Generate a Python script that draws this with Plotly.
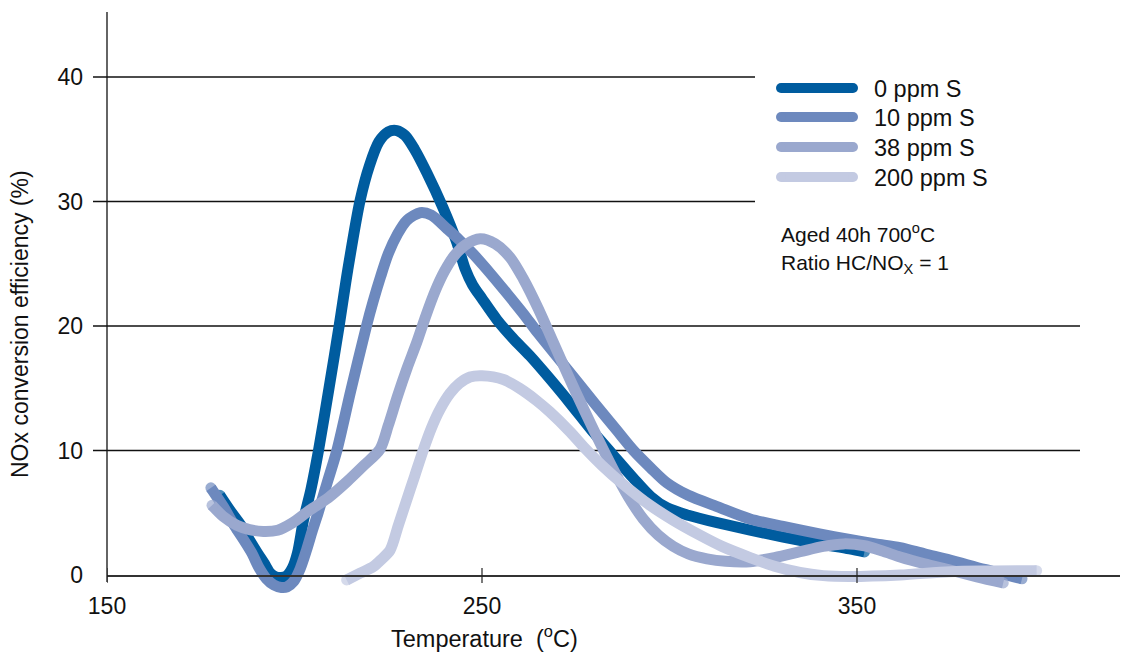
import plotly.graph_objects as go

# ---------------- data ----------------
temp_0ppm = [180.1, 183, 185.9, 188, 190.1, 192, 193.5, 195, 196.5, 198, 199.5, 200.8, 202.4, 204.4,
             206.4, 209.2, 211.9, 214.2, 217.5, 220, 222.5, 225, 227.3, 229.5, 232, 235.3, 239.6,
             243.3, 245.5, 247.5, 250, 254, 258.3, 262.8, 268, 273.5, 279.6, 284.5, 290.3, 295,
             299.3, 305, 312.7, 321.5, 330.3, 340, 348, 352]
nox_0ppm = [6.4, 5.1, 3.9, 2.8, 1.77, 0.9, 0.16, -0.15, -0.2, -0.05, 0.6, 1.77, 4.4, 6.9,
            10.0, 15.0, 20.0, 24.5, 30.1, 32.9, 34.8, 35.6, 35.7, 35.3, 34.2, 32.3, 29.5,
            26.7, 24.6, 23.3, 22.2, 20.5, 19.0, 17.6, 15.8, 13.8, 11.5, 9.8, 7.8, 6.3,
            5.4, 4.8, 4.2, 3.6, 3.05, 2.5, 2.1, 1.85]

temp_10ppm = [177.7, 181, 184.1, 186.5, 188.6, 190.5, 192.5, 194.5, 196.5, 198, 199.8, 201.5, 203.2,
              204.8, 206.3, 208.8, 211.3, 215, 219.2, 221, 223, 225, 227.5, 230, 233.5, 236.5,
              240.7, 244, 247.6, 252, 256.7, 261, 265, 272, 280, 286, 290.4, 295, 299.3, 305,
              312.7, 321.5, 330.3, 340, 348, 355, 361.5, 368, 374.8, 384, 394]
nox_10ppm = [7.0, 5.5, 3.9, 2.8, 1.77, 0.6, -0.3, -0.8, -1.0, -0.95, -0.5, 0.5, 2.0,
             3.6, 5.0, 7.5, 10.0, 14.8, 20.0, 22.0, 24.0, 25.8, 27.4, 28.5, 29.1, 28.9,
             27.8, 26.9, 25.8, 24.3, 22.6, 21.0, 19.4, 16.8, 13.8, 11.6, 10.0, 8.6, 7.4, 6.4,
             5.5, 4.5, 3.9, 3.3, 2.85, 2.5, 2.2, 1.7, 1.2, 0.45, -0.3]

temp_38ppm = [178, 181, 184.6, 188, 191.7, 195.5, 199.5, 204, 209, 214, 218.5, 222.8, 225, 227.5,
              230, 232.5, 235, 237.5, 240, 242.5, 245.5, 249.5, 253.5, 257.5, 261, 265, 269, 273,
              277, 281, 285, 289, 293, 297, 301, 305, 310, 315, 321.5, 328, 334.8, 341, 346.5,
              352, 357, 361.5, 368, 374.8, 382, 389]
nox_38ppm = [5.6, 4.7, 4.0, 3.65, 3.5, 3.6, 4.2, 5.2, 6.2, 7.5, 8.8, 10.1, 12.0, 14.4,
             16.6, 18.6, 20.8, 22.8, 24.4, 25.6, 26.5, 27.0, 26.6, 25.5, 23.8, 21.4, 18.7, 16.0,
             13.4, 10.9, 8.5, 6.3, 4.5, 3.2, 2.3, 1.7, 1.3, 1.1, 1.07, 1.4, 1.87, 2.3, 2.5,
             2.35, 1.9, 1.45, 0.9, 0.4, -0.15, -0.64]

temp_200ppm = [213.9, 217.5, 221, 223, 225.5, 227.7, 229.9, 232.1, 234.3, 236.5, 238.8, 241.5, 244,
               246.8, 250, 255.7, 260, 264.6, 268.1, 273.5, 277.7, 282, 287.6, 294.8, 301, 308.1,
               314, 321.5, 328, 334.8, 341, 348, 361.5, 374.8, 386, 397.9]
nox_200ppm = [-0.4, 0.15, 0.67, 1.2, 2.0, 4.0, 6.0, 8.0, 10.0, 11.8, 13.3, 14.6, 15.4,
              15.9, 16.0, 15.7, 15.0, 14.0, 13.1, 11.5, 10.1, 8.8, 7.3, 5.6, 4.4, 3.2,
              2.3, 1.4, 0.7, 0.2, -0.05, -0.12, 0.0, 0.27, 0.32, 0.35]

series_names = ["0 ppm S", "10 ppm S", "38 ppm S", "200 ppm S"]
series_x = [temp_0ppm, temp_10ppm, temp_38ppm, temp_200ppm]
series_y = [nox_0ppm, nox_10ppm, nox_38ppm, nox_200ppm]
colors = ["#005C9F", "#6D89BE", "#9AA8CE", "#C3CAE2"]

x_ticks = [150, 250, 350]
y_ticks = [0, 10, 20, 30, 40]
x_title = "Temperature&nbsp; (<sup>o</sup>C)"
y_title = "NOx conversion efficiency (%)"
note_lines = ["Aged 40h 700<sup>o</sup>C", "Ratio HC/NO<sub>X</sub> = 1"]

# ---------------- layout geometry (pixels) ----------------
W, H = 1124, 653
ML, MR, MT, MB = 107, 4, 12, 53
PW, PH = W - ML - MR, H - MT - MB
X_PER_PX = 100 / 375.0
Y_PER_PX = 10 / 124.5
x_range = [150, 150 + PW * X_PER_PX]
y_top = (575 - MT) * Y_PER_PX
y_range = [y_top - PH * Y_PER_PX, y_top]


def px_x(px):
    return (px - ML) / PW


def px_y(py):
    return (H - MB - py) / PH


FONT = "Liberation Sans, Arial, Helvetica, sans-serif"
LW = 11

fig = go.Figure()
for name, xs, ys, c in zip(series_names, series_x, series_y, colors):
    sizes = [0] * len(xs)
    sizes[0] = LW
    sizes[-1] = LW
    fig.add_trace(go.Scatter(
        x=xs, y=ys, name=name, mode="lines+markers",
        line=dict(color=c, width=LW, shape="spline", smoothing=0.8),
        marker=dict(size=sizes, color=c, line=dict(width=0)),
        showlegend=False, hoverinfo="skip",
    ))

shapes = []
# horizontal gridlines (left part acts as tick mark)
for v in y_ticks[1:]:
    right = 1080 if v <= 20 else 755
    shapes.append(dict(type="line", xref="paper", yref="y", x0=px_x(93), x1=px_x(right),
                       y0=v, y1=v, line=dict(color="#111", width=1.3), layer="below"))
# y axis line
shapes.append(dict(type="line", xref="paper", yref="paper", x0=0, x1=0,
                   y0=px_y(582), y1=1, line=dict(color="#111", width=1.3)))
# x ticks crossing the axis
for v in x_ticks:
    shapes.append(dict(type="line", xref="x", yref="paper", x0=v, x1=v,
                       y0=px_y(583), y1=px_y(568), line=dict(color="#222", width=1.2)))

# legend swatches
legend_rows = [88, 117, 147, 177]
annotations = []
for name, c, py in zip(series_names, colors, legend_rows):
    shapes.append(dict(type="line", xref="paper", yref="paper", x0=px_x(781), x1=px_x(853),
                       y0=px_y(py), y1=px_y(py), line=dict(color=c, width=10)))
    for cx in (781, 853):
        shapes.append(dict(type="circle", xref="paper", yref="paper",
                           xsizemode="pixel", ysizemode="pixel",
                           xanchor=px_x(cx), yanchor=px_y(py),
                           x0=-5, x1=5, y0=-5, y1=5,
                           fillcolor=c, line=dict(width=0)))
    annotations.append(dict(text=name, xref="paper", yref="paper", x=px_x(872), y=px_y(py + 1),
                            xanchor="left", yanchor="middle", showarrow=False,
                            font=dict(family=FONT, size=23.5, color="#111")))

annotations.append(dict(text=note_lines[0], xref="paper", yref="paper", x=px_x(779), y=px_y(233),
                        xanchor="left", yanchor="middle", showarrow=False,
                        font=dict(family=FONT, size=21, color="#111")))
annotations.append(dict(text=note_lines[1], xref="paper", yref="paper", x=px_x(779), y=px_y(264),
                        xanchor="left", yanchor="middle", showarrow=False,
                        font=dict(family=FONT, size=21, color="#111")))
annotations.append(dict(text=x_title, xref="paper", yref="paper", x=px_x(484), y=px_y(637),
                        xanchor="center", yanchor="middle", showarrow=False,
                        font=dict(family=FONT, size=23.5, color="#111")))
annotations.append(dict(text=y_title, xref="paper", yref="paper", x=px_x(20), y=px_y(324),
                        xanchor="center", yanchor="middle", textangle=-90, showarrow=False,
                        font=dict(family=FONT, size=23, color="#111")))

fig.update_layout(
    width=W, height=H,
    margin=dict(l=ML, r=MR, t=MT, b=MB, pad=0),
    paper_bgcolor="white", plot_bgcolor="white",
    showlegend=False,
    shapes=shapes, annotations=annotations,
    xaxis=dict(range=x_range, tickvals=x_ticks, ticks="", showgrid=False, zeroline=False,
               showline=True, linecolor="#333", linewidth=1.5,
               anchor="free", position=px_y(575),
               tickfont=dict(family=FONT, size=23, color="#111"), ticklabelstandoff=10),
    yaxis=dict(range=y_range, tickvals=y_ticks, ticks="", showgrid=False, zeroline=False,
               showline=False,
               tickfont=dict(family=FONT, size=23, color="#111"), ticklabelstandoff=23),
)

fig.write_html("out.html",
               config={"displayModeBar": False, "staticPlot": True},
               post_script="document.body.style.margin='0px';document.body.style.overflow='hidden';")
